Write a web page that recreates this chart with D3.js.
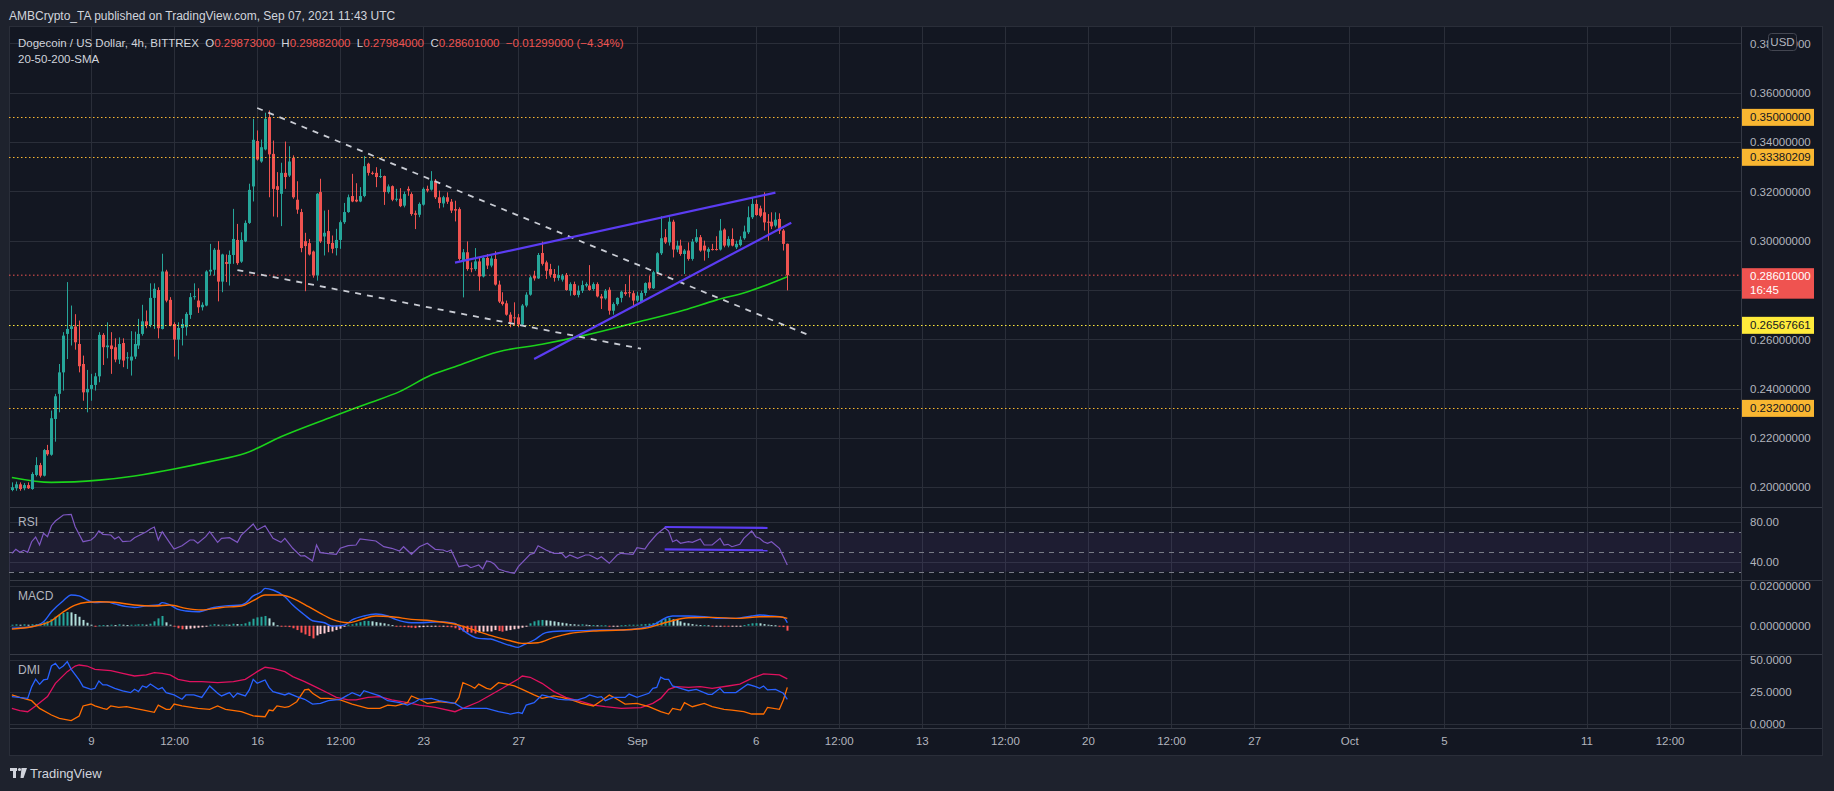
<!DOCTYPE html>
<html>
<meta charset="utf-8">
<head>
    <script src="https://d3js.org/d3.v7.min.js"></script>
</head>

<style>
  body { margin: 0; background: #1e222d; }
  svg text { font-family: "Liberation Sans", Arial, sans-serif; }
  svg .axis path { display: none; }
  svg .axis text { fill: #b2b5be; font-size: 11.5px; font-family: "Liberation Sans", Arial, sans-serif; }
  svg .grid line { stroke: #2a2e39; stroke-width: 1; }
  svg .pane-title { fill: #b2b5be; font-size: 12px; }
</style>

<body>
<script>
// ---- data: DOGE/USD 4h, first bar Aug 5 2021 16:00 UTC ----
var firstBar = Date.UTC(2021, 7, 5, 16);

// [open, high, low, close]
var candles = [
 [0.1989,0.2020,0.1984,0.2000],[0.1996,0.2023,0.1986,0.2012],[0.2012,0.2020,0.1986,0.1993],[0.1996,0.2017,0.1988,0.2009],
 [0.2009,0.2020,0.1993,0.1996],[0.1993,0.2061,0.1990,0.2054],[0.2050,0.2122,0.2044,0.2090],[0.2090,0.2099,0.2040,0.2047],
 [0.2047,0.2155,0.2044,0.2151],[0.2151,0.2172,0.2128,0.2134],[0.2132,0.2311,0.2128,0.2280],[0.2277,0.2379,0.2185,0.2369],
 [0.2379,0.2500,0.2304,0.2466],[0.2466,0.2629,0.2392,0.2615],[0.2622,0.2832,0.2520,0.2642],[0.2642,0.2737,0.2575,0.2653],
 [0.2652,0.2702,0.2558,0.2588],[0.2581,0.2676,0.2466,0.2491],[0.2500,0.2534,0.2351,0.2385],[0.2385,0.2476,0.2304,0.2399],
 [0.2399,0.2460,0.2351,0.2415],[0.2415,0.2464,0.2392,0.2450],[0.2450,0.2629,0.2426,0.2618],[0.2618,0.2625,0.2496,0.2568],
 [0.2568,0.2669,0.2523,0.2575],[0.2575,0.2629,0.2460,0.2561],[0.2568,0.2604,0.2507,0.2518],[0.2518,0.2608,0.2500,0.2581],
 [0.2585,0.2604,0.2487,0.2514],[0.2523,0.2548,0.2480,0.2527],[0.2514,0.2633,0.2453,0.2530],[0.2530,0.2631,0.2520,0.2581],
 [0.2575,0.2683,0.2561,0.2622],[0.2622,0.2740,0.2615,0.2673],[0.2673,0.2717,0.2645,0.2658],[0.2658,0.2827,0.2649,0.2768],
 [0.2768,0.2827,0.2642,0.2805],[0.2800,0.2811,0.2604,0.2645],[0.2642,0.2947,0.2640,0.2875],[0.2875,0.2882,0.2750,0.2757],
 [0.2760,0.2771,0.2653,0.2656],[0.2662,0.2669,0.2530,0.2599],[0.2599,0.2669,0.2518,0.2646],[0.2646,0.2683,0.2575,0.2662],
 [0.2649,0.2710,0.2615,0.2703],[0.2699,0.2788,0.2683,0.2771],[0.2771,0.2827,0.2761,0.2775],[0.2757,0.2807,0.2707,0.2730],
 [0.2730,0.2750,0.2717,0.2740],[0.2737,0.2880,0.2734,0.2875],[0.2875,0.2987,0.2859,0.2882],[0.2882,0.2970,0.2859,0.2963],
 [0.2963,0.2998,0.2754,0.2834],[0.2834,0.2947,0.2791,0.2944],[0.2913,0.2944,0.2832,0.2906],[0.2906,0.2960,0.2818,0.2942],
 [0.2942,0.3129,0.2906,0.3007],[0.3003,0.3068,0.2902,0.2909],[0.2915,0.3034,0.2910,0.3003],[0.2997,0.3082,0.2994,0.3072],
 [0.3072,0.3231,0.3068,0.3206],[0.3220,0.3494,0.3159,0.3409],[0.3404,0.3447,0.3325,0.3329],[0.3321,0.3410,0.3316,0.3379],
 [0.3370,0.3519,0.3366,0.3494],[0.3501,0.3528,0.3176,0.3350],[0.3352,0.3406,0.3098,0.3210],[0.3221,0.3278,0.3095,0.3206],
 [0.3190,0.3316,0.3059,0.3275],[0.3275,0.3402,0.3210,0.3258],[0.3264,0.3383,0.3258,0.3321],[0.3336,0.3346,0.3170,0.3176],
 [0.3166,0.3241,0.3109,0.3126],[0.3116,0.3129,0.2953,0.2970],[0.2998,0.3032,0.2795,0.2978],[0.2990,0.3007,0.2940,0.2944],
 [0.2956,0.2960,0.2850,0.2859],[0.2859,0.3193,0.2838,0.3190],[0.3197,0.3251,0.2991,0.2997],[0.3017,0.3122,0.2940,0.3032],
 [0.3039,0.3125,0.2953,0.2987],[0.2991,0.3021,0.2949,0.2967],[0.2970,0.3048,0.2940,0.3003],[0.3003,0.3082,0.2967,0.3075],
 [0.3075,0.3153,0.3068,0.3116],[0.3116,0.3187,0.3113,0.3176],[0.3181,0.3271,0.3156,0.3159],[0.3166,0.3233,0.3156,0.3159],
 [0.3159,0.3217,0.3156,0.3181],[0.3181,0.3343,0.3176,0.3302],[0.3312,0.3316,0.3264,0.3275],[0.3275,0.3281,0.3267,0.3271],
 [0.3275,0.3298,0.3217,0.3258],[0.3258,0.3291,0.3254,0.3262],[0.3262,0.3264,0.3145,0.3197],[0.3197,0.3228,0.3191,0.3220],
 [0.3221,0.3224,0.3160,0.3166],[0.3166,0.3210,0.3159,0.3170],[0.3170,0.3213,0.3136,0.3140],[0.3142,0.3199,0.3135,0.3189],
 [0.3210,0.3220,0.3182,0.3203],[0.3189,0.3196,0.3101,0.3108],[0.3111,0.3122,0.3047,0.3105],[0.3105,0.3155,0.3095,0.3149],
 [0.3146,0.3216,0.3142,0.3210],[0.3210,0.3223,0.3196,0.3203],[0.3207,0.3282,0.3203,0.3243],[0.3243,0.3250,0.3169,0.3176],
 [0.3176,0.3203,0.3131,0.3153],[0.3151,0.3182,0.3135,0.3176],[0.3176,0.3196,0.3149,0.3158],[0.3158,0.3169,0.3112,0.3122],
 [0.3128,0.3162,0.3078,0.3122],[0.3128,0.3135,0.2919,0.2926],[0.2919,0.2966,0.2770,0.2953],[0.2953,0.2997,0.2878,0.2885],
 [0.2888,0.2912,0.2872,0.2885],[0.2885,0.2970,0.2878,0.2916],[0.2916,0.2932,0.2797,0.2855],[0.2855,0.2939,0.2851,0.2930],
 [0.2930,0.2946,0.2885,0.2899],[0.2899,0.2939,0.2892,0.2928],[0.2926,0.2957,0.2818,0.2822],[0.2822,0.2838,0.2747,0.2753],
 [0.2753,0.2791,0.2737,0.2743],[0.2746,0.2757,0.2696,0.2700],[0.2700,0.2710,0.2649,0.2669],[0.2689,0.2750,0.2656,0.2685],
 [0.2689,0.2703,0.2649,0.2660],[0.2660,0.2743,0.2656,0.2737],[0.2737,0.2791,0.2730,0.2781],[0.2781,0.2858,0.2777,0.2851],
 [0.2858,0.2878,0.2838,0.2847],[0.2847,0.2950,0.2845,0.2942],[0.2950,0.2996,0.2899,0.2906],[0.2912,0.2919,0.2845,0.2878],
 [0.2885,0.2906,0.2851,0.2862],[0.2865,0.2885,0.2834,0.2849],[0.2849,0.2899,0.2838,0.2861],[0.2842,0.2865,0.2834,0.2858],
 [0.2861,0.2869,0.2797,0.2800],[0.2797,0.2831,0.2777,0.2824],[0.2824,0.2834,0.2777,0.2780],[0.2780,0.2818,0.2770,0.2797],
 [0.2797,0.2838,0.2788,0.2820],[0.2818,0.2831,0.2811,0.2824],[0.2818,0.2901,0.2797,0.2800],[0.2804,0.2831,0.2797,0.2824],
 [0.2824,0.2831,0.2770,0.2774],[0.2774,0.2784,0.2723,0.2766],[0.2766,0.2804,0.2761,0.2797],[0.2801,0.2811,0.2700,0.2716],
 [0.2716,0.2750,0.2700,0.2743],[0.2743,0.2770,0.2737,0.2768],[0.2768,0.2797,0.2750,0.2793],[0.2791,0.2824,0.2777,0.2784],
 [0.2791,0.2861,0.2770,0.2788],[0.2787,0.2797,0.2730,0.2757],[0.2757,0.2793,0.2750,0.2777],[0.2750,0.2797,0.2747,0.2788],
 [0.2788,0.2831,0.2777,0.2828],[0.2831,0.2858,0.2801,0.2807],[0.2807,0.2878,0.2804,0.2872],[0.2872,0.2953,0.2865,0.2949],
 [0.2949,0.3099,0.2942,0.3010],[0.3014,0.3047,0.2987,0.2993],[0.2993,0.3095,0.2980,0.3077],[0.3077,0.3085,0.2932,0.2964],
 [0.2964,0.3000,0.2953,0.2980],[0.2980,0.3004,0.2939,0.2946],[0.2946,0.2966,0.2865,0.2960],[0.2960,0.2993,0.2919,0.2926],
 [0.2926,0.3007,0.2919,0.2996],[0.2996,0.3047,0.2991,0.3014],[0.3014,0.3023,0.2955,0.2960],[0.2980,0.3000,0.2919,0.2960],
 [0.2955,0.2973,0.2930,0.2966],[0.2966,0.2987,0.2960,0.2964],[0.2966,0.3018,0.2960,0.2964],[0.2964,0.3088,0.2960,0.3041],
 [0.3045,0.3050,0.2973,0.2980],[0.2980,0.3018,0.2973,0.3007],[0.3007,0.3050,0.2977,0.2980],[0.2973,0.3000,0.2966,0.2987],
 [0.2982,0.3018,0.2977,0.3004],[0.3010,0.3061,0.3004,0.3037],[0.3034,0.3139,0.3027,0.3095],[0.3095,0.3176,0.3088,0.3149],
 [0.3149,0.3166,0.3101,0.3104],[0.3131,0.3142,0.3095,0.3101],[0.3115,0.3196,0.3041,0.3074],[0.3077,0.3108,0.3000,0.3073],
 [0.3077,0.3115,0.3047,0.3058],[0.3061,0.3115,0.3054,0.3085],[0.3088,0.3111,0.3027,0.3041],[0.3041,0.3047,0.2960,0.2987],
 [0.29873,0.29882,0.27984,0.28601]
];

// 200 SMA, [bar, value]
var sma200 = [[0,0.2040],[10,0.2020],[22,0.2029],[31,0.2046],[41,0.2074],[50,0.2104],[59,0.2138],[68,0.2205],
  [81,0.2286],[90,0.2340],[98,0.2388],[106,0.2455],[112,0.2489],[123,0.2550],[134,0.2580],[145,0.2617],
  [157,0.2665],[170,0.2719],[178,0.2759],[186,0.2793],[196,0.2854]];

// RSI, [bar, value]
var rsi = [[0,48.4],[1,52.4],[2,49.4],[3,51.4],[4,49.4],[5,60],[6,64.7],[7,56.7],[8,68.4],[9,65],[10,76],[11,80.7],
  [13,86.7],[15,87.4],[16,75],[18,60],[20,61.7],[21,65],[22,70.7],[23,67.4],[25,66.7],[26,62.7],[27,65],[28,60],
  [30,60.7],[31,64],[33,68],[34,70],[35,72.7],[36,74.7],[37,61.7],[38,70],[40,58.4],[41,52.7],[43,56],[45,61.7],
  [46,61.7],[47,58.4],[49,65],[50,70],[52,59.4],[53,63.4],[55,64],[57,59.4],[58,66.7],[61,77.7],[62,71.7],[64,76],
  [66,63.4],[68,59.4],[69,63.4],[71,53.4],[73,45.7],[74,46],[76,40.7],[77,56.7],[78,49],[80,48],[82,47.4],[83,53.4],
  [85,56],[87,56.7],[88,62.7],[92,60.7],[94,55],[96,53.4],[98,50.7],[99,55],[101,47.4],[103,55],[105,58.4],[107,52.4],
  [109,51.7],[110,50],[111,51.7],[113,35],[115,36.7],[116,34],[118,36.7],[119,32.7],[120,40.7],[121,40],[122,37.4],
  [123,32.7],[125,30],[127,28.4],[128,35],[131,47.4],[132,48.4],[133,56],[135,51.7],[137,48.4],[139,48.4],[140,44],
  [141,46.7],[143,43.4],[145,46.7],[146,46.7],[148,42.7],[149,45],[150,41.7],[151,38.4],[153,46.7],[154,48.4],
  [157,47.4],[158,54],[160,52.7],[161,58.4],[163,67.4],[165,74],[166,70.7],[167,60],[168,61.7],[169,58.4],[171,60],
  [172,59.4],[174,62.7],[175,56.7],[177,56.7],[179,63.4],[180,56.7],[181,57.4],[182,55],[184,57.4],[185,63.4],
  [187,70.7],[188,65],[189,63.4],[190,60],[191,58.4],[192,60],[194,53.4],[196,36.7]];

// MACD line and signal, [bar, value]
var macdLine = [[0,-0.0013],[5,-0.0005],[8,0.002],[10,0.007],[13,0.0126],[15,0.0155],[17,0.015],[19,0.013],
  [21,0.0116],[24,0.012],[26,0.011],[29,0.0096],[31,0.0092],[34,0.01],[37,0.0104],[38,0.0116],[40,0.0104],
  [42,0.0082],[44,0.0074],[47,0.007],[51,0.0092],[54,0.01],[58,0.0104],[59,0.0113],[61,0.015],[63,0.017],
  [64,0.0188],[66,0.018],[69,0.0146],[71,0.0104],[74,0.0054],[76,0.0025],[79,0.0015],[81,-0.0002],[84,0.0003],
  [86,0.0029],[89,0.0049],[92,0.0059],[95,0.0049],[97,0.0032],[101,0.0015],[103,0.0015],[108,0.002],[112,0.0012],
  [114,-0.0022],[118,-0.0064],[121,-0.0067],[123,-0.008],[126,-0.01],[128,-0.0109],[129,-0.01],[132,-0.0072],
  [135,-0.0035],[139,-0.0027],[144,-0.0025],[149,-0.0022],[154,-0.0022],[159,-0.0013],[162,0.0003],[166,0.0045],
  [167,0.0049],[171,0.0049],[175,0.0045],[179,0.0037],[183,0.0037],[187,0.0049],[189,0.0054],[192,0.0049],
  [195,0.0042],[196,0.0015]];
var macdSignal = [[0,-0.0017],[5,-0.0005],[10,0.0025],[13,0.007],[16,0.0104],[19,0.0118],[22,0.0121],[26,0.0118],
  [31,0.0104],[36,0.0099],[40,0.0104],[44,0.0087],[48,0.0079],[53,0.0092],[58,0.0099],[61,0.0126],[64,0.0155],
  [68,0.0155],[71,0.0138],[75,0.0096],[78,0.0062],[81,0.0032],[85,0.0015],[88,0.0029],[92,0.0049],[96,0.0045],
  [101,0.0032],[106,0.0025],[108,0.002],[113,0.0003],[118,-0.003],[122,-0.0055],[126,-0.0076],[129,-0.0089],
  [133,-0.0086],[137,-0.0059],[141,-0.0039],[147,-0.0027],[154,-0.0022],[160,-0.0013],[166,0.002],[171,0.004],
  [177,0.0042],[184,0.0037],[189,0.0045],[194,0.0045],[196,0.0037]];
// MACD histogram, one value per bar
var macdHist = [
  0.0005,0.0007,0.0005,0.0007,0.0005,0.0007,
  0.0008,0.0010,0.0017,0.0022,0.0032,0.0045,0.0055,0.0064,0.0069,
  0.0067,0.0059,0.0045,0.0029,0.0015,0.0005,
  -0.0002,0.0002,0.0003,0.0002,0.0005,0.0003,0.0007,0.0005,0.0003,0.0005,0.0005,0.0007,0.0007,0.0005,
  0.0010,0.0022,0.0037,0.0049,0.0017,0.0005,
  -0.0005,-0.0013,-0.0018,-0.0018,-0.0015,-0.0013,-0.0010,-0.0008,-0.0002,
  0.0005,0.0008,0.0005,0.0005,0.0007,0.0005,0.0010,0.0008,0.0008,0.0012,
  0.0020,0.0035,0.0042,0.0045,0.0049,0.0037,0.0017,
  0.0002,
  -0.0003,-0.0005,-0.0007,-0.0013,-0.0022,-0.0035,-0.0044,-0.0052,-0.0064,
  -0.0049,-0.0042,-0.0039,-0.0032,-0.0029,-0.0022,-0.0015,-0.0005,
  0.0005,0.0007,0.0012,0.0018,0.0024,0.0024,0.0022,0.0018,0.0015,0.0012,0.0007,0.0003,
  -0.0003,-0.0005,-0.0007,-0.0008,-0.0010,-0.0012,-0.0008,
  -0.0007,-0.0005,-0.0003,-0.0003,-0.0005,-0.0005,-0.0007,-0.0008,
  -0.0013,-0.0022,-0.0029,-0.0034,-0.0035,-0.0039,
  -0.0034,-0.0030,-0.0029,-0.0029,-0.0022,-0.0027,-0.0030,-0.0025,-0.0022,-0.0018,-0.0015,-0.0010,-0.0003,
  0.0012,0.0022,0.0027,0.0029,0.0027,0.0025,0.0022,0.0018,0.0015,0.0012,0.0008,0.0007,0.0005,0.0007,0.0005,0.0003,0.0003,0.0002,0.0002,0.0002,
  -0.0002,-0.0002,-0.0001,
  0.0002,0.0003,0.0005,0.0005,0.0005,0.0007,0.0008,0.0010,0.0013,0.0020,0.0029,0.0035,0.0040,
  0.0032,0.0029,0.0022,0.0015,0.0012,0.0008,0.0005,0.0003,0.0003,0.0002,
  -0.0002,-0.0002,-0.0001,-0.0002,-0.0003,-0.0002,-0.0002,-0.0001,
  0.0003,0.0008,0.0012,0.0013,0.0012,0.0008,0.0005,0.0003,0.0002,
  -0.0002,-0.0007,-0.0025
];

// DMI, [bar, value]
var plusDI = [[0,21.4],[4,20],[5,29],[6,35],[7,31],[8,34.4],[9,35],[10,45.3],[11,47.4],[12,43.2],[13,45.3],[14,48.7],
  [15,42.7],[17,34.4],[18,29.2],[20,27.1],[21,27.9],[22,33.6],[23,30.5],[24,30.5],[26,27.9],[28,25.8],[30,24.5],
  [31,27.1],[32,25.3],[33,29.7],[34,28.6],[35,31.2],[37,27.1],[38,28.4],[39,24.5],[41,22.7],[43,19.3],[44,22.7],
  [46,22.7],[48,20.8],[50,29.7],[52,24],[53,21.9],[55,24.5],[56,20.8],[57,24],[59,21.9],[60,26.6],[61,34.9],[62,31.8],
  [63,33.1],[64,34.4],[65,28.6],[66,25.3],[69,22.7],[70,24],[72,21.4],[74,19.3],[76,15.6],[78,16.1],[80,18.2],[83,19.3],
  [85,22.7],[86,24.5],[88,21.9],[89,26],[91,24],[93,21.9],[95,18.2],[98,16.7],[100,14.8],[102,17.4],[103,19.3],[106,20],
  [108,18.2],[112,16.1],[114,12.2],[117,12.2],[120,12.2],[123,9.6],[126,7.8],[128,9.1],[129,8.3],[130,14.8],[132,16.7],
  [134,22.7],[135,21.9],[138,19.5],[140,18.8],[143,18.8],[145,20.8],[146,22.7],[148,20.8],[149,21.4],[150,18.2],
  [152,20.8],[155,20.8],[156,23.4],[158,20.8],[161,24],[162,27.9],[163,28.6],[164,36.5],[165,34.9],[166,34.9],
  [167,29.7],[169,27.9],[171,26],[173,27.1],[176,23.2],[177,23.2],[179,27.9],[180,24.5],[183,24.5],[186,31],[188,29.2],
  [189,27.9],[190,29.7],[191,26.6],[193,27.1],[195,24],[196,19.3]];
var minusDI = [[0,22.7],[2,20.8],[5,18.2],[7,12.2],[10,7],[12,4.4],[15,2.6],[17,6.3],[18,14.1],[20,15.6],[21,14.1],
  [23,12.2],[24,11.5],[25,14.1],[27,13],[29,13.5],[31,12.2],[33,11],[36,9.1],[37,14.8],[39,11.5],[40,11.5],[41,15.6],
  [43,14.1],[47,12.2],[50,11.5],[52,14.1],[54,11.5],[58,9.6],[61,6.3],[64,5.7],[65,10.9],[66,10.4],[67,14.1],[69,13],
  [70,13.5],[72,17.4],[74,26.6],[75,27.1],[76,24],[78,20],[80,20],[83,18.8],[86,15.6],[90,12.2],[93,12.2],[95,14.8],
  [97,14.1],[100,16.7],[101,21.9],[103,19.3],[105,16.1],[108,17.4],[112,16.1],[113,20.8],[114,32.3],[116,29.7],
  [117,27.9],[118,31.2],[120,27.9],[121,27.1],[123,32.3],[125,31.2],[127,29.7],[129,27.1],[132,22.7],[134,20],
  [137,21.9],[139,20.8],[142,18.2],[144,16.1],[147,14.1],[149,18.2],[151,22.7],[153,19.3],[155,15.6],[158,16.1],
  [161,13.5],[164,9.6],[166,7.8],[167,12.2],[169,10.9],[170,16.7],[172,13.5],[175,16.1],[177,13.5],[180,11.5],
  [182,10.9],[185,9.6],[187,7.8],[190,7.8],[191,13],[194,11.5],[195,18.8],[196,28.6]];
var adx = [[0,12.2],[2,10.4],[4,9.6],[6,14.1],[9,21.4],[11,31.8],[14,40.9],[16,45.3],[17,46.1],[19,45.3],[21,42.7],
  [25,41.7],[28,39.6],[31,37.5],[34,38.3],[36,40.1],[38,39.6],[40,38.3],[42,34.9],[45,33.1],[48,33.1],[52,32.3],
  [56,33.1],[59,34.9],[62,40.9],[64,44.3],[66,43.5],[69,40.9],[71,37],[74,33.1],[77,28.6],[80,24],[82,20.8],[85,18.8],
  [87,18.8],[90,20.8],[93,21.4],[96,18.8],[100,16.7],[103,14.8],[107,13],[112,9.6],[114,12.2],[118,17.4],[121,22.7],
  [124,27.9],[128,35.2],[129,37.5],[131,36.5],[134,31.8],[137,25.3],[140,20.8],[144,17.4],[147,14.8],[150,13.5],
  [154,12.2],[159,12.8],[162,16.1],[164,20],[166,27.1],[168,29.2],[171,28.6],[174,29.2],[177,27.9],[181,29.7],
  [184,31.2],[187,35.7],[190,39.1],[194,38.3],[196,35.2]];

// horizontal levels drawn on the chart
var levels = [0.35, 0.33380209, 0.26567661, 0.232];
var levelColors = ["#f9b631", "#f9b631", "#ffeb3b", "#f9b631"];
var lastPrice = 0.28601;
var countdown = "16:45";

// trend lines, [[bar, price], [bar, price]]
var whiteLines = [[[62, 0.3538], [202, 0.2613]], [[57, 0.2881], [159, 0.2562]]];
var purpleLines = [[[112, 0.2911], [193, 0.3195]], [[132, 0.2520], [197, 0.3073]]];
var rsiLines = [[[165, 74.7], [191, 73.7]], [[165, 52.4], [191, 51.4]]];

// axis ticks
var priceTicks = [0.20, 0.22, 0.24, 0.26, 0.28, 0.30, 0.32, 0.34, 0.36, 0.38];
var rsiTicks = [40, 80];
var macdTicks = [0, 0.02];
var dmiTicks = [0, 25, 50];
var timeTicks = [[2021,7,9,0,"9"],[2021,7,12,12,"12:00"],[2021,7,16,0,"16"],[2021,7,19,12,"12:00"],[2021,7,23,0,"23"],
  [2021,7,27,0,"27"],[2021,8,1,0,"Sep"],[2021,8,6,0,"6"],[2021,8,9,12,"12:00"],[2021,8,13,0,"13"],[2021,8,16,12,"12:00"],
  [2021,8,20,0,"20"],[2021,8,23,12,"12:00"],[2021,8,27,0,"27"],[2021,9,1,0,"Oct"],[2021,9,5,0,"5"],[2021,9,11,0,"11"],
  [2021,9,14,12,"12:00"]];

var headerText = "AMBCrypto_TA published on TradingView.com, Sep 07, 2021 11:43 UTC";
var symbolText = "Dogecoin / US Dollar, 4h, BITTREX";
var changeText = "\u22120.01299000 (\u22124.34%)";

// ---- layout ----
var width = 1834, height = 791;
var left = 9, plotRight = 1741, right = 1823;
var pPrice = [26, 506.5], pRsi = [506.5, 580], pMacd = [580, 654], pDmi = [654, 728], pTime = [728, 756];

function barTime(i) { return new Date(firstBar + i * 4 * 3600 * 1000); }
var tickDates = timeTicks.map(function(d) { return new Date(Date.UTC(d[0], d[1], d[2], d[3])); });

var x = d3.scaleUtc()
    .domain([new Date(Date.UTC(2021, 7, 9)), new Date(Date.UTC(2021, 9, 11))])
    .range([91, 1586.5]);
var yPrice = d3.scaleLinear().domain([0.20, 0.36]).range([487.3, 92.7]);
var yRsi = d3.scaleLinear().domain([40, 80]).range([561.7, 521.7]);
var yMacd = d3.scaleLinear().domain([0, 0.02]).range([625.7, 586]);
var yDmi = d3.scaleLinear().domain([0, 50]).range([724, 660]);
function bx(i) { return x(barTime(i)); }

var svg = d3.select("body").append("svg")
    .attr("width", width)
    .attr("height", height);

svg.append("rect").attr("width", width).attr("height", height).attr("fill", "#1e222d");
svg.append("rect").attr("x", left).attr("y", 26).attr("width", right - left).attr("height", 730)
    .attr("fill", "#131722");

var defs = svg.append("defs");
function clip(id, x0, x1, y0, y1) {
    defs.append("clipPath").attr("id", id).append("rect")
        .attr("x", x0).attr("y", y0).attr("width", x1 - x0).attr("height", y1 - y0);
    return "url(#" + id + ")";
}
var cPrice = clip("c-price", left, plotRight, pPrice[0], pPrice[1]);
var cRsi = clip("c-rsi", left, plotRight, pRsi[0], pRsi[1]);
var cMacd = clip("c-macd", left, plotRight, pMacd[0], pMacd[1]);
var cDmi = clip("c-dmi", left, plotRight, pDmi[0], pDmi[1]);

// grid
var grid = svg.append("g").attr("class", "grid");
grid.selectAll("line.v").data(tickDates).enter().append("line")
    .attr("x1", function(d) { return Math.round(x(d)) + 0.5; })
    .attr("x2", function(d) { return Math.round(x(d)) + 0.5; })
    .attr("y1", pPrice[0]).attr("y2", pDmi[1]);
function hgrid(ticks, scale, cp) {
    grid.append("g").attr("clip-path", cp).selectAll("line").data(ticks).enter().append("line")
        .attr("x1", left).attr("x2", plotRight)
        .attr("y1", function(d) { return Math.round(scale(d)) + 0.5; })
        .attr("y2", function(d) { return Math.round(scale(d)) + 0.5; });
}
hgrid(priceTicks, yPrice, cPrice);
hgrid(rsiTicks, yRsi, cRsi);
hgrid(macdTicks, yMacd, cMacd);
hgrid(dmiTicks, yDmi, cDmi);

// pane separators and right axis border
var sep = svg.append("g").attr("stroke", "#363a45").attr("stroke-width", 1);
[pRsi[0], pMacd[0], pDmi[0], pTime[0]].forEach(function(y) {
    sep.append("line").attr("x1", left).attr("x2", right).attr("y1", Math.round(y) + 0.5).attr("y2", Math.round(y) + 0.5);
});
sep.append("line").attr("x1", plotRight + 0.5).attr("x2", plotRight + 0.5).attr("y1", 26).attr("y2", 756);
svg.append("rect").attr("x", left + 0.5).attr("y", 26.5).attr("width", right - left - 1).attr("height", 729)
    .attr("fill", "none").attr("stroke", "#2a2e39");

// ---- price pane ----
var price = svg.append("g").attr("clip-path", cPrice);

price.append("line")
    .attr("x1", left).attr("x2", plotRight)
    .attr("y1", yPrice(lastPrice)).attr("y2", yPrice(lastPrice))
    .attr("stroke", "#ef5350").attr("stroke-dasharray", "1.5,2.5");

var line = d3.line().x(function(d) { return bx(d[0]); }).y(function(d) { return yPrice(d[1]); })
    .curve(d3.curveMonotoneX);
price.append("path").datum(sma200).attr("d", line)
    .attr("fill", "none").attr("stroke", "#1bd21b").attr("stroke-width", 1.6);

var candle = price.selectAll("g.candle").data(candles).enter().append("g");
candle.append("line")
    .attr("x1", function(d, i) { return Math.round(bx(i)) + 0.5; })
    .attr("x2", function(d, i) { return Math.round(bx(i)) + 0.5; })
    .attr("y1", function(d) { return yPrice(d[1]); })
    .attr("y2", function(d) { return yPrice(d[2]); })
    .attr("stroke", function(d) { return d[3] >= d[0] ? "#26a69a" : "#ef5350"; });
candle.append("rect")
    .attr("x", function(d, i) { return Math.round(bx(i)) - 1; })
    .attr("width", 3)
    .attr("y", function(d) { return yPrice(Math.max(d[0], d[3])); })
    .attr("height", function(d) { return Math.max(1, Math.abs(yPrice(d[0]) - yPrice(d[3]))); })
    .attr("fill", function(d) { return d[3] >= d[0] ? "#26a69a" : "#ef5350"; });

price.selectAll("line.level").data(levels).enter().append("line")
    .attr("x1", left).attr("x2", plotRight)
    .attr("y1", function(d) { return Math.round(yPrice(d)) + 0.5; })
    .attr("y2", function(d) { return Math.round(yPrice(d)) + 0.5; })
    .attr("stroke", function(d, i) { return levelColors[i]; })
    .attr("stroke-dasharray", "1.5,2.5");

var seg = d3.line().x(function(d) { return bx(d[0]); }).y(function(d) { return yPrice(d[1]); });
price.selectAll("path.white").data(whiteLines).enter().append("path")
    .attr("d", seg).attr("fill", "none").attr("stroke", "#c9ccd4")
    .attr("stroke-width", 1.8).attr("stroke-dasharray", "6,6");
price.selectAll("path.purple").data(purpleLines).enter().append("path")
    .attr("d", seg).attr("fill", "none").attr("stroke", "#5b3cf2").attr("stroke-width", 2.2);

// ---- RSI pane ----
var rsiG = svg.append("g").attr("clip-path", cRsi);
rsiG.append("rect").attr("x", left).attr("width", plotRight - left)
    .attr("y", yRsi(70)).attr("height", yRsi(30) - yRsi(70))
    .attr("fill", "rgba(126,87,194,0.1)");
rsiG.selectAll("line.band").data([70, 50, 30]).enter().append("line")
    .attr("x1", left).attr("x2", plotRight)
    .attr("y1", function(d) { return Math.round(yRsi(d)) + 0.5; })
    .attr("y2", function(d) { return Math.round(yRsi(d)) + 0.5; })
    .attr("stroke", "#787b86").attr("stroke-dasharray", "5,5");
rsiG.append("path").datum(rsi)
    .attr("d", d3.line().x(function(d) { return bx(d[0]); }).y(function(d) { return yRsi(d[1]); }))
    .attr("fill", "none").attr("stroke", "#7e57c2").attr("stroke-width", 1.2);
rsiG.selectAll("path.rl").data(rsiLines).enter().append("path")
    .attr("d", d3.line().x(function(d) { return bx(d[0]); }).y(function(d) { return yRsi(d[1]); }))
    .attr("fill", "none").attr("stroke", "#5b3cf2").attr("stroke-width", 2.2);

// ---- MACD pane ----
var macdG = svg.append("g").attr("clip-path", cMacd);
macdG.selectAll("rect").data(macdHist).enter().append("rect")
    .attr("x", function(d, i) { return Math.round(bx(i)) - 0.5; })
    .attr("width", 2)
    .attr("y", function(d) { return Math.min(yMacd(0), yMacd(d)); })
    .attr("height", function(d) { return Math.max(1, Math.abs(yMacd(d) - yMacd(0))); })
    .attr("fill", function(d, i) {
        var prev = i > 0 ? macdHist[i - 1] : d;
        if (d >= 0) return d >= prev ? "#26a69a" : "#b2dfdb";
        return d < prev ? "#ff5252" : "#ffcdd2";
    });
var mline = d3.line().x(function(d) { return bx(d[0]); }).y(function(d) { return yMacd(d[1]); })
    .curve(d3.curveMonotoneX);
macdG.append("path").datum(macdLine).attr("d", mline)
    .attr("fill", "none").attr("stroke", "#2962ff").attr("stroke-width", 1.4);
macdG.append("path").datum(macdSignal).attr("d", mline)
    .attr("fill", "none").attr("stroke", "#ff6d00").attr("stroke-width", 1.4);

// ---- DMI pane ----
var dmiG = svg.append("g").attr("clip-path", cDmi);
var dline = d3.line().x(function(d) { return bx(d[0]); }).y(function(d) { return yDmi(d[1]); });
dmiG.append("path").datum(adx).attr("d", dline)
    .attr("fill", "none").attr("stroke", "#e0115f").attr("stroke-width", 1.3);
dmiG.append("path").datum(minusDI).attr("d", dline)
    .attr("fill", "none").attr("stroke", "#ff6d00").attr("stroke-width", 1.3);
dmiG.append("path").datum(plusDI).attr("d", dline)
    .attr("fill", "none").attr("stroke", "#2962ff").attr("stroke-width", 1.3);

// ---- axes ----
// price labels hidden behind the last-price badge are skipped, as the platform does
var lpTop = yPrice(lastPrice) - 7, lpBottom = lpTop + 30.5;
var priceLabelTicks = priceTicks.filter(function(v) {
    var y = yPrice(v);
    return y < lpTop - 4 || y > lpBottom + 4;
});
function rightAxis(scale, ticks, fmt, y0, y1, id) {
    var cp = clip(id, plotRight + 1, right, y0, y1);
    svg.append("g").attr("clip-path", cp).append("g")
        .attr("class", "axis")
        .attr("transform", "translate(" + plotRight + ",0)")
        .call(d3.axisRight(scale).tickValues(ticks).tickFormat(d3.format(fmt)).tickSize(0).tickPadding(9));
}
rightAxis(yPrice, priceLabelTicks, ".8f", pPrice[0], pPrice[1], "a-price");
rightAxis(yRsi, rsiTicks, ".2f", pRsi[0], pRsi[1], "a-rsi");
rightAxis(yMacd, macdTicks, ".8f", pMacd[0], pMacd[1], "a-macd");
rightAxis(yDmi, dmiTicks, ".4f", pDmi[0], pDmi[1], "a-dmi");

svg.append("g")
    .attr("class", "axis")
    .attr("transform", "translate(0," + pTime[0] + ")")
    .call(d3.axisBottom(x).tickValues(tickDates)
        .tickFormat(function(d, i) { return timeTicks[i][4]; })
        .tickSize(0).tickPadding(9));

// USD badge
svg.append("rect").attr("x", 1768.5).attr("y", 33.5).attr("width", 28).attr("height", 17).attr("rx", 3)
    .attr("fill", "#131722").attr("stroke", "#434651");
svg.append("text").attr("x", 1782.5).attr("y", 46).attr("text-anchor", "middle")
    .style("font-size", "11.5px").attr("fill", "#b2b5be").text("USD");

// level badges
var badge = svg.selectAll("g.badge").data(levels).enter().append("g");
badge.append("rect")
    .attr("x", plotRight + 1).attr("width", 72)
    .attr("y", function(d) { return yPrice(d) - 8.5; }).attr("height", 17)
    .attr("fill", function(d, i) { return levelColors[i]; });
badge.append("text")
    .attr("x", 1750).attr("y", function(d) { return yPrice(d) + 4; })
    .style("font-size", "11.5px").attr("fill", "#131722")
    .text(function(d) { return d3.format(".8f")(d); });

var lp = svg.append("g");
lp.append("rect").attr("x", plotRight + 1).attr("width", 72)
    .attr("y", lpTop).attr("height", 30.5).attr("fill", "#ef5350");
lp.append("text").attr("x", 1750).attr("y", yPrice(lastPrice) + 5)
    .style("font-size", "11.5px").attr("fill", "#ffffff").text(d3.format(".8f")(lastPrice));
lp.append("text").attr("x", 1750).attr("y", yPrice(lastPrice) + 19)
    .style("font-size", "11.5px").attr("fill", "#ffffff").text(countdown);

// ---- texts ----
svg.append("text").attr("x", 9).attr("y", 20).style("font-size", "12px").attr("fill", "#d1d4dc").text(headerText);

var last = candles[candles.length - 1];
var f8 = d3.format(".8f");
var legend = svg.append("text").attr("x", 18).attr("y", 46.5).style("font-size", "11.5px").style("white-space", "pre");
[[symbolText + "  O", "#d1d4dc"], [f8(last[0]), "#ef5350"], ["  H", "#d1d4dc"], [f8(last[1]), "#ef5350"],
 ["  L", "#d1d4dc"], [f8(last[2]), "#ef5350"], ["  C", "#d1d4dc"], [f8(last[3]), "#ef5350"],
 ["  " + changeText, "#ef5350"]].forEach(function(p) {
    legend.append("tspan").attr("fill", p[1]).text(p[0]);
});
svg.append("text").attr("x", 18).attr("y", 63).style("font-size", "11.5px").attr("fill", "#d1d4dc").text("20-50-200-SMA");

svg.append("text").attr("class", "pane-title").attr("x", 18).attr("y", 526).text("RSI");
svg.append("text").attr("class", "pane-title").attr("x", 18).attr("y", 600).text("MACD");
svg.append("text").attr("class", "pane-title").attr("x", 18).attr("y", 674).text("DMI");

// TradingView logo
var logo = svg.append("g").attr("fill", "#d1d4dc");
logo.append("rect").attr("x", 10).attr("y", 768).attr("width", 7).attr("height", 3);
logo.append("rect").attr("x", 13).attr("y", 768).attr("width", 3).attr("height", 10);
logo.append("circle").attr("cx", 19.5).attr("cy", 769.5).attr("r", 1.6);
logo.append("path").attr("d", "M21.5,768 L27,768 L23.5,778 L20.5,778 Z");
svg.append("text").attr("x", 30).attr("y", 778).style("font-size", "13px").attr("fill", "#d1d4dc").text("TradingView");
</script>
</body>
</html>
